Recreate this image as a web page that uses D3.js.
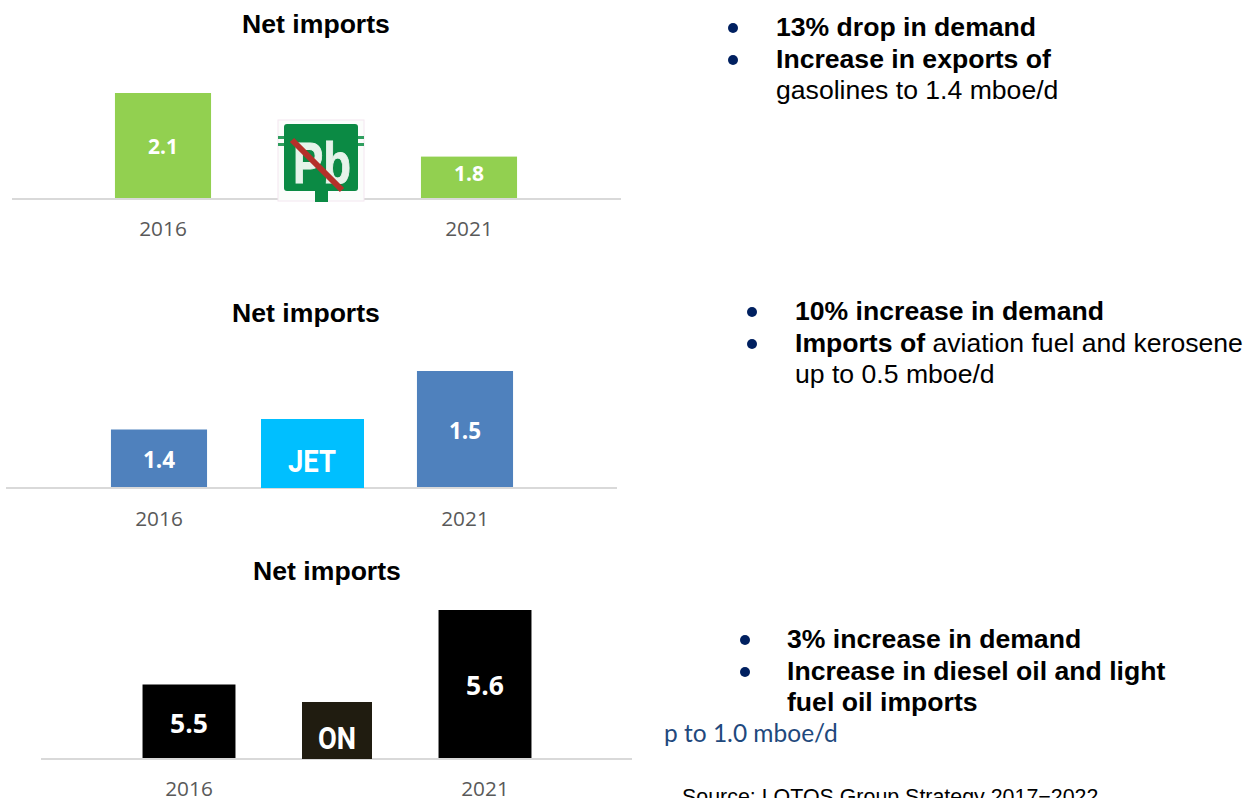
<!DOCTYPE html>
<html><head><meta charset="utf-8">
<script src="https://cdn.jsdelivr.net/npm/d3@7/dist/d3.min.js"></script>
<style>html,body{margin:0;padding:0;background:#fff;overflow:hidden}svg{display:block}</style>
</head><body><svg id="c" width="1259" height="798"></svg>
<script>
const years = ["2016", "2021"];
const gasolineValues = [2.1, 1.8];
const jetValues = [1.4, 1.5];
const dieselValues = [5.5, 5.6];
const chartTitle = "Net imports";
const sourceText = "Source: LOTOS Group Strategy 2017\u22122022";
const notes1 = [[776,36,true,"13% drop in demand",true],[776,68,true,"Increase in exports of",true],[776,99,false,"gasolines to 1.4 mboe/d",false]];
const notes2 = [[795,320,true,"10% increase in demand",true],[795,352,"mixed","Imports of|aviation fuel and kerosene",true],[795,383,false,"up to 0.5 mboe/d",false]];
const notes3 = [[787,648,true,"3% increase in demand",true],[787,680,true,"Increase in diesel oil and light",true],[787,711,true,"fuel oil imports",false]];

const svg = d3.select("#c");
const sans = "'Open Sans',sans-serif", arial = "'Liberation Sans',Arial,sans-serif";

function barChart(o){
  const g = svg.append("g");
  const x = d3.scaleBand().domain(years).range(o.xr).paddingInner(o.pi).paddingOuter(o.pi/2);
  const y = d3.scaleLinear().domain(o.dom).range([o.base,o.top]);
  g.selectAll("rect.bar").data(o.vals).join("rect").attr("class","bar")
    .attr("x",(d,i)=>x(years[i])).attr("width",x.bandwidth())
    .attr("y",d=>y(d)).attr("height",d=>o.base-y(d)).attr("fill",o.color);
  g.selectAll("text.val").data(o.vals).join("text").attr("class","val")
    .attr("x",(d,i)=>x(years[i])+x.bandwidth()/2).attr("y",(d,i)=>(y(d)+o.base)/2+o.fs*0.36+o.dy[i])
    .attr("text-anchor","middle").attr("fill","#fff").attr("font-family",sans)
    .attr("font-weight",700).attr("font-size",o.fs).text(d=>d.toFixed(1));
  const axis = g.append("g").attr("transform",`translate(0,${o.base})`)
    .call(d3.axisBottom(x).tickSize(0).tickPadding(o.pad));
  axis.select(".domain").attr("stroke","#d9d9d9").attr("stroke-width",2).attr("d",`M${o.ax[0]},0H${o.ax[1]}`);
  axis.selectAll("text").attr("font-family",sans).attr("font-size",20.8).attr("fill","#595959");
  svg.append("text").attr("x",o.tx).attr("y",o.ty).attr("text-anchor","middle")
    .attr("font-family",arial).attr("font-weight",700).attr("font-size",26.6).attr("fill","#000").text(chartTitle);
}
barChart({vals:gasolineValues,dom:[1.6,2.1],base:199,top:93,xr:[10,622],pi:0.686,color:"#92d050",fs:21,dy:[0,-4],ax:[12,621],pad:22,tx:316,ty:33});
barChart({vals:jetValues,dom:[1.3,1.5],base:488,top:371,xr:[6,618],pi:0.686,color:"#4f81bd",fs:22.5,dy:[1,1],ax:[6,617],pad:23,tx:306,ty:322});
barChart({vals:dieselValues,dom:[5.4,5.6],base:759,top:610,xr:[41,633],pi:0.686,color:"#000",fs:26.5,dy:[2,1],ax:[41,632],pad:22,tx:327,ty:580});

// product icons
function icon(x,y,w,h,fill,label,lx,ly,fs,tl){
  svg.append("rect").attr("x",x).attr("y",y).attr("width",w).attr("height",h).attr("fill",fill);
  svg.append("text").attr("x",lx).attr("y",ly).attr("text-anchor","middle").attr("fill","#fff")
    .attr("font-family","Roboto,sans-serif").attr("font-weight",700).attr("font-size",fs)
    .attr("textLength",tl).attr("lengthAdjust","spacingAndGlyphs").text(label);
}
icon(261,419,103,69,"#00bfff","JET",312,472,32,48);
icon(302,702,70,57,"#201c10","ON",337,749,32,38);

// Pb pictogram
const pb = svg.append("g");
pb.append("rect").attr("x",278).attr("y",120).attr("width",86).attr("height",81).attr("fill","#fbfdfb").attr("stroke","#f3e6f0").attr("stroke-width",1);
[136,143].forEach(yy=>pb.append("rect").attr("x",278).attr("y",yy).attr("width",86).attr("height",3).attr("fill","#2f9e5e"));
pb.append("rect").attr("x",284).attr("y",124).attr("width",74).attr("height",67).attr("rx",3).attr("fill","#0b8a44");
pb.append("rect").attr("x",315).attr("y",188).attr("width",13).attr("height",14).attr("fill","#0b8a44");
pb.append("text").attr("x",322).attr("y",183).attr("text-anchor","middle").attr("font-family",arial)
  .attr("font-weight",700).attr("font-size",58).attr("fill","#e6f3ea").attr("stroke","#e6f3ea").attr("stroke-width",1)
  .attr("textLength",58).attr("lengthAdjust","spacingAndGlyphs").text("Pb");
pb.append("line").attr("x1",292).attr("y1",140).attr("x2",342).attr("y2",190).attr("stroke","#b5302a").attr("stroke-width",6);

// notes
function notes(list,bx){
  list.forEach(([x,y,b,t,bullet])=>{
    const tx = svg.append("text").attr("x",x).attr("y",y).attr("font-family",arial).attr("font-size",26.6).attr("fill","#000");
    if(b==="mixed"){
      const [a,c]=t.split("|");
      tx.append("tspan").attr("font-weight",700).text(a+" ");
      tx.append("tspan").text(c);
    } else tx.attr("font-weight",b?700:400).text(t);
    if(bullet) svg.append("circle").attr("cx",bx).attr("cy",y-8).attr("r",5).attr("fill","#002060");
  });
}
notes(notes1,733); notes(notes2,752); notes(notes3,745);
svg.append("text").attr("x",664).attr("y",742).attr("font-family","Lato,sans-serif").attr("font-size",24.5).attr("fill","#1f497d").text("p to 1.0 mboe/d");
svg.append("text").attr("x",682).attr("y",804).attr("font-family",arial).attr("font-size",21.4).attr("fill","#000").text(sourceText);
</script></body></html>
